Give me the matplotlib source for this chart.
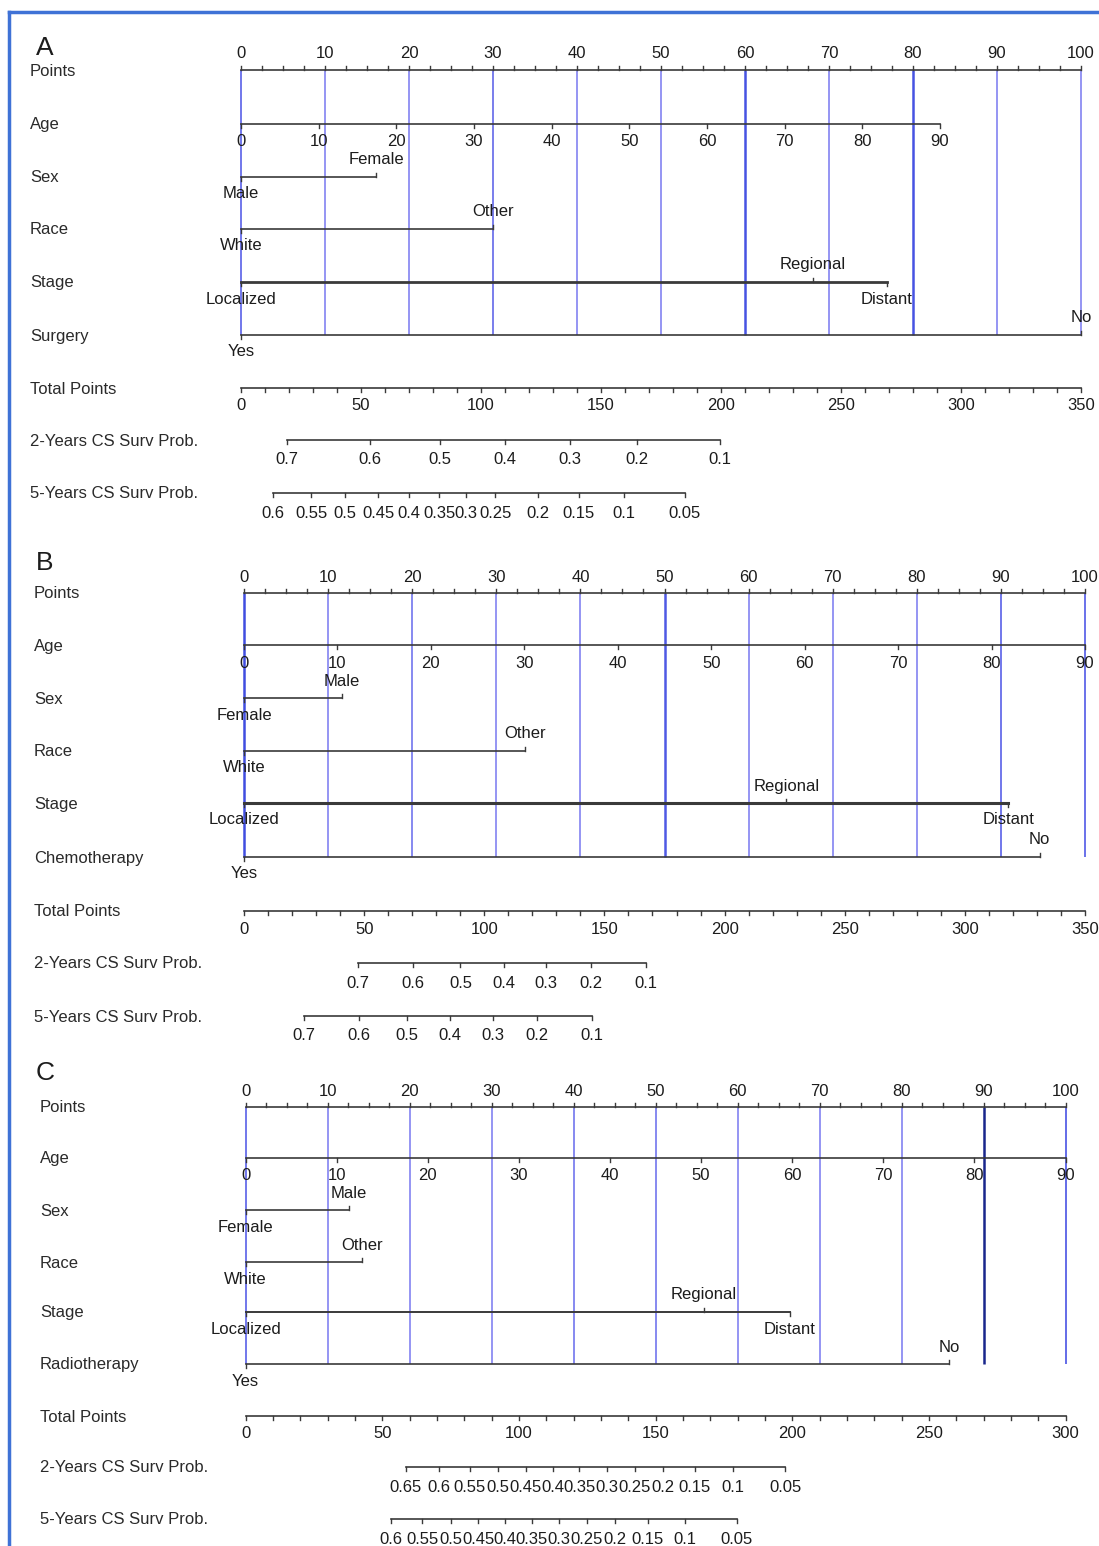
import matplotlib
matplotlib.use('Agg')
import matplotlib.pyplot as plt
from matplotlib.lines import Line2D
from matplotlib.transforms import blended_transform_factory

plt.rcParams['font.family'] = ['Liberation Sans', 'DejaVu Sans']

# ------------------------------------------------------------------ data
points_ticks = list(range(0, 101, 10))
points_minor_step = 2.5
age_ticks = list(range(0, 91, 10))
prob_row_names = ['2-Years CS Surv Prob.', '5-Years CS Surv Prob.']

# Panel A
A_age_max_points = 83.2          # points at age 90
A_sex_levels = ['Male', 'Female']
A_sex_points = [0, 16.1]
A_race_levels = ['White', 'Other']
A_race_points = [0, 30.0]
A_stage_levels = ['Localized', 'Regional', 'Distant']
A_stage_points = [0, 68.1, 76.9]
A_treat_name = 'Surgery'
A_treat_levels = ['Yes', 'No']
A_treat_points = [0, 100]
A_total_ticks = [0, 50, 100, 150, 200, 250, 300, 350]
A_surv2_labels = ['0.7', '0.6', '0.5', '0.4', '0.3', '0.2', '0.1']
A_surv2_total = [19.2, 53.8, 83.0, 110.1, 137.1, 164.9, 199.5]
A_surv5_labels = ['0.6', '0.55', '0.5', '0.45', '0.4', '0.35', '0.3', '0.25',
                  '0.2', '0.15', '0.1', '0.05']
A_surv5_total = [13.4, 29.2, 43.3, 57.2, 70.0, 82.7, 93.7, 106.0, 123.7,
                 140.7, 159.4, 184.9]

# Panel B
B_age_max_points = 100.0
B_sex_levels = ['Female', 'Male']
B_sex_points = [0, 11.6]
B_race_levels = ['White', 'Other']
B_race_points = [0, 33.4]
B_stage_levels = ['Localized', 'Regional', 'Distant']
B_stage_points = [0, 64.5, 90.9]
B_treat_name = 'Chemotherapy'
B_treat_levels = ['Yes', 'No']
B_treat_points = [0, 94.6]
B_total_ticks = [0, 50, 100, 150, 200, 250, 300, 350]
B_surv2_labels = ['0.7', '0.6', '0.5', '0.4', '0.3', '0.2', '0.1']
B_surv2_total = [47.5, 70.3, 90.1, 108.2, 125.7, 144.3, 167.1]
B_surv5_labels = ['0.7', '0.6', '0.5', '0.4', '0.3', '0.2', '0.1']
B_surv5_total = [25.0, 47.8, 67.9, 85.7, 103.5, 121.9, 144.9]

# Panel C
C_age_max_points = 100.0
C_sex_levels = ['Female', 'Male']
C_sex_points = [0, 12.6]
C_race_levels = ['White', 'Other']
C_race_points = [0, 14.2]
C_stage_levels = ['Localized', 'Regional', 'Distant']
C_stage_points = [0, 55.9, 66.4]
C_treat_name = 'Radiotherapy'
C_treat_levels = ['Yes', 'No']
C_treat_points = [0, 85.8]
C_total_ticks = [0, 50, 100, 150, 200, 250, 300]
C_surv2_labels = ['0.65', '0.6', '0.55', '0.5', '0.45', '0.4', '0.35', '0.3',
                  '0.25', '0.2', '0.15', '0.1', '0.05']
C_surv2_total = [58.6, 70.9, 82.1, 92.5, 102.6, 112.4, 122.1, 132.2, 142.3,
                 152.8, 164.4, 178.4, 197.4]
C_surv5_labels = ['0.6', '0.55', '0.5', '0.45', '0.4', '0.35', '0.3', '0.25',
                  '0.2', '0.15', '0.1', '0.05']
C_surv5_total = [53.1, 64.7, 75.2, 85.2, 94.9, 104.7, 114.7, 124.8, 135.2,
                 147.1, 160.8, 179.7]

# ------------------------------------------------------------------ layout
W, H = 1099, 1546
FS = 12
TXT = '#1c1c1c'
LBL = '#2a2a2a'
LN = '#3a3a3a'

panels = [
    dict(letter='A', x0=241, x100=1081, label_x=30, letter_xy=(36, 48),
         rows=[70, 124, 177, 229, 282, 335, 388, 440, 493],
         age_max=A_age_max_points,
         cats=[('Sex', A_sex_levels, A_sex_points),
               ('Race', A_race_levels, A_race_points),
               ('Stage', A_stage_levels, A_stage_points),
               (A_treat_name, A_treat_levels, A_treat_points)],
         total_ticks=A_total_ticks,
         surv=[(A_surv2_labels, A_surv2_total), (A_surv5_labels, A_surv5_total)],
         blue=[0.75, 0.5, 0.5, 0.7, 0.5, 0.5, 0.95, 0.5, 0.95, 0.5, 0.5],
         stage_lw=2.0),
    dict(letter='B', x0=244, x100=1085, label_x=34, letter_xy=(36, 563),
         rows=[593, 645, 698, 751, 803, 857, 911, 963, 1016],
         age_max=B_age_max_points,
         cats=[('Sex', B_sex_levels, B_sex_points),
               ('Race', B_race_levels, B_race_points),
               ('Stage', B_stage_levels, B_stage_points),
               (B_treat_name, B_treat_levels, B_treat_points)],
         total_ticks=B_total_ticks,
         surv=[(B_surv2_labels, B_surv2_total), (B_surv5_labels, B_surv5_total)],
         blue=[1.0, 0.5, 0.6, 0.5, 0.5, 0.9, 0.5, 0.5, 0.5, 0.75, 0.8],
         stage_lw=2.2),
    dict(letter='C', x0=245.5, x100=1065.6, label_x=40, letter_xy=(36, 1073),
         rows=[1107, 1158, 1210, 1262, 1312, 1364, 1416, 1467, 1519],
         age_max=C_age_max_points,
         cats=[('Sex', C_sex_levels, C_sex_points),
               ('Race', C_race_levels, C_race_points),
               ('Stage', C_stage_levels, C_stage_points),
               (C_treat_name, C_treat_levels, C_treat_points)],
         total_ticks=C_total_ticks,
         surv=[(C_surv2_labels, C_surv2_total), (C_surv5_labels, C_surv5_total)],
         blue=[0.75, 0.5, 0.5, 0.5, 0.6, 0.6, 0.5, 0.5, 0.5, 1.3, 0.85],
         stage_lw=1.4),
]


def blue_color(s):
    # s in [0.5, 1.3]: light lavender blue -> dark navy
    light = (0.55, 0.55, 0.95)
    mid = (0.25, 0.30, 0.88)
    dark = (0.10, 0.15, 0.55)
    if s <= 1.0:
        t = (s - 0.5) / 0.5
        return tuple(a + (b - a) * t for a, b in zip(light, mid))
    t = (s - 1.0) / 0.3
    return tuple(a + (b - a) * t for a, b in zip(mid, dark))


fig = plt.figure(figsize=(W / 100, H / 100), dpi=100)
fig.patch.set_facecolor('white')

TL = 4  # tick length in px

for p in panels:
    ppp = (p['x100'] - p['x0']) / 100.0
    ax = fig.add_axes([0, 0, 1, 1], facecolor='none')
    ax.set_xlim(-p['x0'] / ppp, (W - p['x0']) / ppp)
    ax.set_ylim(H, 0)
    ax.axis('off')
    tr = blended_transform_factory(ax.transAxes, ax.transData)
    rows = p['rows']
    y_pts, y_age = rows[0], rows[1]
    y_cats = rows[2:6]
    y_tot = rows[6]
    y_surv = rows[7:9]

    # panel letter
    ax.text(p['letter_xy'][0] / W, p['letter_xy'][1], p['letter'], transform=tr,
            fontsize=19, color=TXT, ha='left', va='center')

    # row labels
    names = ['Points', 'Age'] + [c[0] for c in p['cats']] + ['Total Points'] + prob_row_names
    for nm, yy in zip(names, rows):
        ax.text(p['label_x'] / W, yy + 1, nm, transform=tr, fontsize=FS,
                color=LBL, ha='left', va='center')

    # blue reference lines
    for v, s in zip(points_ticks, p['blue']):
        ax.plot([v, v], [y_pts, y_cats[-1]], color=blue_color(s),
                lw=1.3 if s < 0.9 else 1.8, zorder=1, solid_capstyle='butt')

    # Points axis
    ax.plot([0, 100], [y_pts, y_pts], color=LN, lw=1.2, zorder=3)
    v = 0.0
    while v <= 100.001:
        ax.plot([v, v], [y_pts, y_pts - TL], color=LN, lw=1.0, zorder=3)
        v += points_minor_step
    for v in points_ticks:
        ax.text(v, y_pts - 16, str(v), fontsize=FS, color=TXT, ha='center', va='center')

    # Age axis
    amax = p['age_max']
    ax.plot([0, amax], [y_age, y_age], color=LN, lw=1.2, zorder=3)
    for a in age_ticks:
        x = a * amax / age_ticks[-1]
        ax.plot([x, x], [y_age, y_age + TL], color=LN, lw=1.0, zorder=3)
        ax.text(x, y_age + 18, str(a), fontsize=FS, color=TXT, ha='center', va='center')

    # categorical rows
    for (nm, levels, pts), yy in zip(p['cats'], y_cats):
        lw = p['stage_lw'] if nm == 'Stage' else 1.2
        ax.plot([min(pts), max(pts)], [yy, yy], color=LN, lw=lw, zorder=3)
        for i, (lev, x) in enumerate(zip(levels, pts)):
            sgn = 1 if i % 2 == 0 else -1   # even: below, odd: above
            ax.plot([x, x], [yy, yy + sgn * TL], color=LN, lw=1.0, zorder=3)
            ax.text(x, yy + sgn * 17, lev, fontsize=FS, color=TXT,
                    ha='center', va='center')

    # Total points axis
    tmax = p['total_ticks'][-1]
    scale = 100.0 / tmax
    ax.plot([0, 100], [y_tot, y_tot], color=LN, lw=1.2, zorder=3)
    for t in range(0, tmax + 1, 10):
        ax.plot([t * scale] * 2, [y_tot, y_tot + TL], color=LN, lw=1.0, zorder=3)
    for t in p['total_ticks']:
        ax.text(t * scale, y_tot + 18, str(t), fontsize=FS, color=TXT,
                ha='center', va='center')

    # survival probability axes
    for (labs, tots), yy in zip(p['surv'], y_surv):
        xs = [t * scale for t in tots]
        ax.plot([min(xs), max(xs)], [yy, yy], color=LN, lw=1.2, zorder=3)
        for lab, x in zip(labs, xs):
            ax.plot([x, x], [yy, yy + TL], color=LN, lw=1.0, zorder=3)
            ax.text(x, yy + 20, lab, fontsize=FS, color=TXT, ha='center', va='center')

# blue frame (top and left edges)
fig.add_artist(Line2D([9 / W, 1.0], [1 - 12 / H, 1 - 12 / H], color='#3f72d6', lw=2.5))
fig.add_artist(Line2D([9 / W, 9 / W], [1 - 12 / H, 0.0], color='#3f72d6', lw=2.5))

fig.savefig('out.png', dpi=100, facecolor='white')
